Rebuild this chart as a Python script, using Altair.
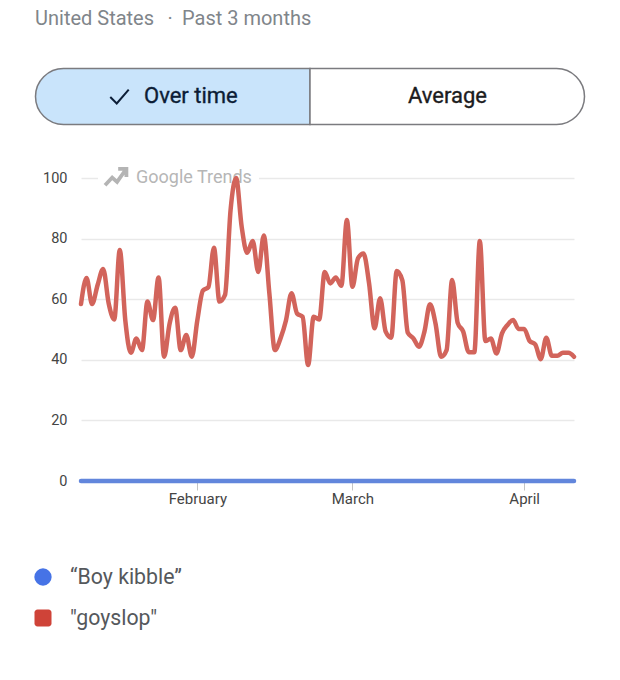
import altair as alt
import pandas as pd

goyslop = [58.4, 67, 58.4, 64.7, 70, 58.6, 53.3, 76.2, 53, 42.3,
           47, 43.2, 59.2, 53.1, 67.2, 41, 52, 57.2, 43.2, 48.2,
           41, 53, 62.8, 64, 77, 59.2, 61.4, 89.4, 100, 84,
           75.3, 79.2, 69, 81, 62, 43.2, 47, 53, 62, 55.3,
           54.2, 38.3, 54.2, 53.3, 69, 65.2, 67.2, 64.4, 86.1, 64.1,
           73.5, 75.1, 65.3, 50.4, 60.3, 49.3, 47.3, 69.3, 66.3, 48.9,
           47.1, 44.3, 49.3, 58.3, 52, 41, 43.2, 66.3, 52.2, 49.3,
           42.5, 42.5, 79.2, 46.2, 47, 42.1, 48.7, 51.5, 53.1, 50.2,
           50.2, 46.2, 45.1, 40.2, 47.3, 41.3, 41.3, 42.3, 42.3, 41]
boy_kibble = [0] * 90
dates = [d.strftime("%Y-%m-%dT00:00:00") for d in pd.date_range("2025-01-11", periods=90)]
y_ticks = [0, 20, 40, 60, 80, 100]
month_ticks = [(2025, 2), (2025, 3), (2025, 4)]
subtitle = ["United States", "·", "Past 3 months"]
tabs = ["Over time", "Average"]
legend_labels = ["“Boy kibble”", "\"goyslop\""]

W, H = 493, 303
OX, OY = 81, 178  # window position of the plot origin
FONT = "Roboto"


def px(v):
    return alt.value(v - OX)


def py(v):
    return alt.value(v - OY)


blank = alt.Data(values=[{"a": 1}])

df = pd.DataFrame({"date": dates, "goyslop": goyslop, "boy": boy_kibble})


def label(txt, x, y, size, color, align="left", halo=0):
    kw = {"stroke": color, "strokeWidth": halo} if halo else {}
    return alt.Chart(blank).mark_text(
        font=FONT, fontSize=size, color=color, align=align, baseline="middle", **kw
    ).encode(x=px(x), y=py(y), text=alt.value(txt))


x_enc = alt.X(
    "date:T",
    title=None,
    scale=alt.Scale(domain=[dates[0], dates[-1]]),
    axis=alt.Axis(
        values=[alt.DateTime(year=y, month=m, date=1) for y, m in month_ticks],
        format="%B",
        grid=False,
        domain=False,
        ticks=True,
        tickColor="#c4c4c4",
        tickSize=9,
        labelFont=FONT,
        labelFontSize=15,
        labelColor="#444444",
        labelPadding=1,
    ),
)
y_enc = alt.Y(
    "v:Q",
    title=None,
    scale=alt.Scale(domain=[0, 100]),
    axis=alt.Axis(
        values=y_ticks,
        grid=True,
        gridColor="#e9e9e9",
        gridWidth=1.3,
        domain=False,
        ticks=False,
        labelFont=FONT,
        labelFontSize=14.5,
        labelColor="#444444",
        labelPadding=14,
    ),
)

red_line = alt.Chart(df).transform_calculate(v="datum.goyslop").mark_line(
    color="#d2645b", strokeWidth=4.5, interpolate="monotone", strokeCap="round", strokeJoin="round", clip=False
).encode(x=x_enc, y=y_enc)
blue_line = alt.Chart(df).transform_calculate(v="datum.boy").mark_line(
    color="#6286dc", strokeWidth=4.5, strokeCap="round", clip=False
).encode(x=x_enc, y=y_enc)

mask = alt.Chart(blank).mark_rect(color="white").encode(x=px(98), x2=px(259), y=py(170), y2=py(186))
icon = alt.Chart(blank).mark_point(
    shape="M-1,0.75L-0.35,0.05L0.1,0.45L0.8,-0.55M0.2,-0.75L0.95,-0.75L0.95,0",
    size=480, filled=False, stroke="#b4b4b4", strokeWidth=3.8, opacity=1,
).encode(x=px(116), y=py(177))
watermark = label("Google Trends", 136, 178, 18, "#b6b6b6")

left_tab = alt.Chart(blank).mark_rect(
    fill="#c9e4fb", stroke="#7b7b7f", strokeWidth=1.5, cornerRadiusTopLeft=28, cornerRadiusBottomLeft=28
).encode(x=px(35.5), x2=px(310), y=py(68.5), y2=py(124.5))
right_tab = alt.Chart(blank).mark_rect(
    fill="white", stroke="#7b7b7f", strokeWidth=1.5, cornerRadiusTopRight=28, cornerRadiusBottomRight=28
).encode(x=px(310), x2=px(584.5), y=py(68.5), y2=py(124.5))
check = alt.Chart(blank).mark_point(
    shape="M-1,0.05L-0.3,0.75L1,-0.75", size=340, filled=False, stroke="#0c1d36", strokeWidth=2, opacity=1
).encode(x=px(119.5), y=py(96.5))

legend_dot = alt.Chart(blank).mark_circle(color="#4673e6", size=300, opacity=1).encode(x=px(43), y=py(577))
legend_box = alt.Chart(blank).mark_rect(color="#cf4338", cornerRadius=3).encode(
    x=px(34.5), x2=px(51.5), y=py(609.5), y2=py(626.5)
)

chart = alt.layer(
    mask,
    icon,
    watermark,
    red_line,
    blue_line,
    left_tab,
    right_tab,
    check,
    label(subtitle[0], 35, 18.5, 20, "#80858a"),
    label(subtitle[1], 170, 18.5, 20, "#80858a", align="center"),
    label(subtitle[2], 182, 18.5, 20, "#80858a"),
    label(tabs[0], 144, 96, 22, "#0c1d36", halo=0.35),
    label(tabs[1], 447.5, 96, 22, "#1c1c1e", align="center", halo=0.35),
    legend_dot,
    legend_box,
    label(legend_labels[0], 70, 578, 21.3, "#55585c"),
    label(legend_labels[1], 70, 619, 21.3, "#55585c"),
).properties(
    width=W,
    height=H,
    background="white",
    padding={"left": OX - 8, "top": OY - 8, "right": 30, "bottom": 180},
    autosize=alt.AutoSizeParams(type="none"),
).configure_view(stroke=None)

chart.save("out.html", embed_options={"renderer": "svg", "actions": False})
